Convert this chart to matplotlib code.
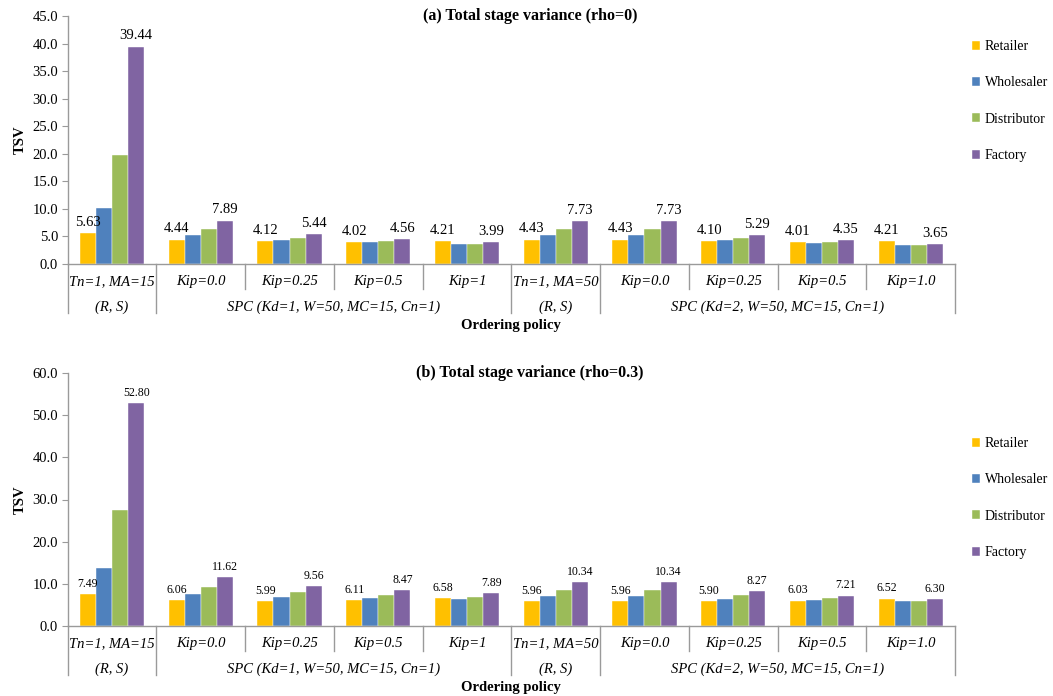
import matplotlib

matplotlib.use("Agg")
import matplotlib.pyplot as plt
import matplotlib.transforms as mtransforms
import numpy as np

plt.rcParams["font.family"] = ["Liberation Serif", "DejaVu Serif"]

# bottom row of category labels (one per group)
policies = ["Tn=1, MA=15", "Kip=0.0", "Kip=0.25", "Kip=0.5", "Kip=1",
            "Tn=1, MA=50", "Kip=0.0", "Kip=0.25", "Kip=0.5", "Kip=1.0"]
# outer labels: (text, first group, last group + 1)
families = [("(R, S)", 0, 1),
            ("SPC (Kd=1, W=50, MC=15, Cn=1)", 1, 5),
            ("(R, S)", 5, 6),
            ("SPC (Kd=2, W=50, MC=15, Cn=1)", 6, 10)]

stages = ["Retailer", "Wholesaler", "Distributor", "Factory"]
colors = ["#FFC000", "#4F81BD", "#9BBB59", "#8064A2"]

# (a) rho = 0
retailer_a = [5.63, 4.44, 4.12, 4.02, 4.21, 4.43, 4.43, 4.10, 4.01, 4.21]
wholesaler_a = [10.15, 5.31, 4.41, 3.93, 3.56, 5.25, 5.25, 4.35, 3.80, 3.50]
distributor_a = [19.8, 6.40, 4.77, 4.17, 3.62, 6.34, 6.34, 4.65, 4.05, 3.44]
factory_a = [39.44, 7.89, 5.44, 4.56, 3.99, 7.73, 7.73, 5.29, 4.35, 3.65]

# (b) rho = 0.3
retailer_b = [7.49, 6.06, 5.99, 6.11, 6.58, 5.96, 5.96, 5.90, 6.03, 6.52]
wholesaler_b = [13.7, 7.5, 6.87, 6.63, 6.39, 7.02, 7.02, 6.47, 6.24, 5.92]
distributor_b = [27.5, 9.3, 8.05, 7.34, 6.87, 8.45, 8.45, 7.26, 6.63, 5.92]
factory_b = [52.80, 11.62, 9.56, 8.47, 7.89, 10.34, 10.34, 8.27, 7.21, 6.30]

W, H = 1053, 696
AX_L, AX_R = 67.7, 955
GREY = "#9a9a9a"


def down(ax, px):
    """x in data, y = bottom of axes shifted px pixels downward"""
    base = mtransforms.blended_transform_factory(ax.transData, ax.transAxes)
    return mtransforms.offset_copy(base, fig=ax.figure, y=-px, units="dots")


def draw_panel(fig, top_px, bot_px, series, ymax, ystep, title, label_size, leg_top):
    ax = fig.add_axes([AX_L / W, 1 - bot_px / H, (AX_R - AX_L) / W, (bot_px - top_px) / H])
    x = np.arange(len(policies))
    bw = 0.181
    for k, (name, vals, col) in enumerate(zip(stages, series, colors)):
        bars = ax.bar(x + (k - 1.5) * bw, vals, bw, color=col, label=name,
                      edgecolor="white", linewidth=0.3)
        if k in (0, 3):
            ax.bar_label(bars, labels=["%.2f" % v for v in vals], padding=3,
                         fontsize=label_size)

    ax.set_xlim(-0.5, len(policies) - 0.5)
    ax.set_ylim(0, ymax)
    ax.set_yticks(np.arange(0, ymax + 0.1, ystep))
    ax.set_yticklabels(["%.1f" % t for t in ax.get_yticks()], fontsize=10.5)
    ax.set_xticks([])
    ax.tick_params(axis="y", direction="out", length=4, color=GREY, pad=3)
    for s in ("top", "right"):
        ax.spines[s].set_visible(False)
    for s in ("left", "bottom"):
        ax.spines[s].set_color(GREY)
        ax.spines[s].set_linewidth(1.0)
    ax.set_ylabel("TSV", fontsize=10.5, fontweight="bold", labelpad=4)

    # category rows and separators
    outer = set()
    for _, a, b in families:
        outer.update([a, b])
    tr = mtransforms.blended_transform_factory(ax.transData, fig.transFigure)
    y0 = 1 - bot_px / H
    for i in range(len(policies) + 1):
        depth = 49 if i in outer else 25
        ax.add_line(plt.Line2D([i - 0.5, i - 0.5], [y0, y0 - depth / H], color=GREY,
                               lw=1.0, transform=tr, clip_on=False))
    for i, lab in enumerate(policies):
        ax.text(i, 0, lab, transform=down(ax, 18), ha="center", va="center",
                fontsize=10.5, style="italic")
    for lab, a, b in families:
        ax.text((a + b - 1) / 2, 0, lab, transform=down(ax, 43), ha="center",
                va="center", fontsize=10.5, style="italic")
    ax.text((len(policies) - 1) / 2, 0, "Ordering policy", transform=down(ax, 62),
            ha="center", va="center", fontsize=10.5, fontweight="bold")

    fig.text(530 / W, 1 - top_px / H, title, ha="center", va="center",
             fontsize=11.5, fontweight="bold")

    ax.legend(loc="upper left", bbox_to_anchor=(972 / W, 1 - leg_top / H),
              bbox_transform=fig.transFigure, frameon=False, fontsize=10,
              handlelength=0.6, handleheight=0.6, handletextpad=0.3,
              labelspacing=1.68, borderpad=0, borderaxespad=0)
    return ax


fig = plt.figure(figsize=(W / 100, H / 100), dpi=100)
draw_panel(fig, 16, 264, [retailer_a, wholesaler_a, distributor_a, factory_a],
           45, 5, "(a) Total stage variance (rho=0)", 10.5, 40)
draw_panel(fig, 373, 626, [retailer_b, wholesaler_b, distributor_b, factory_b],
           60, 10, "(b) Total stage variance (rho=0.3)", 8.5, 437)

fig.savefig("out.png", dpi=100)
